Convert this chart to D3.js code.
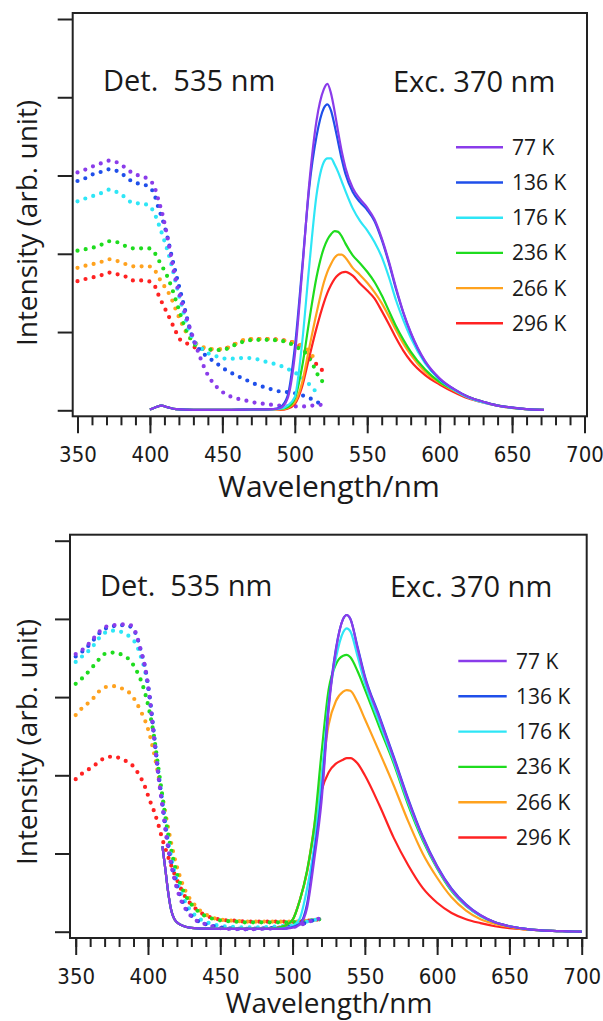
<!DOCTYPE html>
<html>
<head>
<meta charset="utf-8">
<script src="https://cdn.jsdelivr.net/npm/d3@7"></script>
<style>
  body { margin: 0; background: #fff; }
  text { fill: #1a1a1a; }
</style>
</head>
<body>
<svg id="chart" width="603" height="1021"></svg>
<script>
// ---- series labels and colours ----
const temps = ["77 K", "136 K", "176 K", "236 K", "266 K", "296 K"];
const colors = ["#8A3CEA", "#1F4FEA", "#2EE6F6", "#1EDC1E", "#FFA21E", "#FF2222"];
const xTickValues = [350, 400, 450, 500, 550, 600, 650, 700];

// ---- upper panel: excitation spectra (dotted), detection 535 nm ----
const exWlA = [350, 356, 361, 367, 372, 377, 383, 388, 394, 399, 403, 406, 409, 412, 415, 418, 421, 424, 427, 430,
               435, 440, 446, 452, 458, 465, 472, 480, 490, 496, 502, 507, 512, 516, 519];
const exA77  = [3.04, 3.08, 3.12, 3.16, 3.19, 3.17, 3.10, 3.03, 2.99, 2.95, 2.86, 2.68, 2.48, 2.22, 1.92, 1.65, 1.44, 1.26, 1.08, 0.92,
                0.66, 0.45, 0.30, 0.21, 0.16, 0.13, 0.10, 0.08, 0.06, 0.05, 0.05, 0.05, 0.06, 0.07, 0.07];
const exA136 = [2.93, 2.97, 3.02, 3.05, 3.08, 3.06, 2.99, 2.92, 2.89, 2.86, 2.76, 2.58, 2.42, 2.22, 1.97, 1.74, 1.52, 1.30, 1.08, 0.90,
                0.76, 0.68, 0.60, 0.52, 0.46, 0.40, 0.34, 0.29, 0.24, 0.23, 0.21, 0.18, 0.14, 0.10, 0.07];
const exA176 = [2.67, 2.71, 2.74, 2.78, 2.82, 2.79, 2.72, 2.65, 2.64, 2.62, 2.52, 2.38, 2.22, 2.05, 1.85, 1.62, 1.40, 1.20, 1.03, 0.90,
                0.80, 0.73, 0.69, 0.66, 0.66, 0.67, 0.66, 0.62, 0.57, 0.52, 0.46, 0.39, 0.29, 0.21, null];
const exA236 = [2.04, 2.06, 2.08, 2.12, 2.16, 2.15, 2.10, 2.07, 2.07, 2.07, 2.02, 1.92, 1.82, 1.71, 1.57, 1.40, 1.23, 1.07, 0.95, 0.86,
                0.79, 0.78, 0.77, 0.78, 0.83, 0.88, 0.90, 0.90, 0.89, 0.86, 0.80, 0.74, 0.60, 0.45, 0.37];
const exA266 = [1.82, 1.85, 1.87, 1.90, 1.93, 1.91, 1.87, 1.84, 1.84, 1.84, 1.80, 1.70, 1.61, 1.53, 1.42, 1.28, 1.15, 1.03, 0.94, 0.88,
                0.82, 0.79, 0.78, 0.79, 0.84, 0.90, 0.91, 0.91, 0.90, 0.88, 0.85, 0.80, 0.70, 0.62, null];
const exA296 = [1.65, 1.68, 1.70, 1.73, 1.76, 1.74, 1.71, 1.66, 1.66, 1.65, 1.60, 1.47, 1.35, 1.24, 1.12, 1.00, 0.90, 0.87, 0.84, 0.81,
                0.79, 0.78, 0.77, 0.79, 0.84, 0.89, 0.91, 0.91, 0.90, 0.88, 0.84, 0.76, 0.64, 0.57, 0.51];

// ---- upper panel: emission spectra (solid), excitation 370 nm ----
const emWlA = [400, 404, 408, 412, 418, 430, 450, 470, 485, 490, 495, 500, 505, 510, 515, 520, 522.5, 525, 527.5, 530,
               532.5, 535, 540, 545, 550, 555, 560, 565, 570, 575, 580, 590, 600, 610, 620, 630, 640, 650, 660, 672];
const emA77  = [0.01, 0.04, 0.06, 0.04, 0.015, 0.005, 0.005, 0.01, 0.015, 0.03, 0.15, 0.70, 1.75, 2.90, 3.70, 4.10, 4.17, 4.05, 3.82, 3.55,
                3.30, 3.10, 2.84, 2.70, 2.59, 2.44, 2.20, 1.90, 1.56, 1.25, 1.00, 0.63, 0.41, 0.27, 0.17, 0.11, 0.06, 0.035, 0.015, 0.005];
const emA136 = [0.01, 0.04, 0.06, 0.04, 0.015, 0.005, 0.005, 0.01, 0.015, 0.04, 0.18, 0.80, 1.80, 2.85, 3.50, 3.86, 3.91, 3.83, 3.64, 3.42,
                3.20, 3.02, 2.79, 2.66, 2.56, 2.42, 2.18, 1.88, 1.54, 1.24, 0.99, 0.62, 0.40, 0.27, 0.17, 0.11, 0.06, 0.035, 0.015, 0.005];
const emA176 = [0.01, 0.04, 0.06, 0.04, 0.015, 0.005, 0.005, 0.01, 0.015, 0.02, 0.06, 0.17, 0.85, 1.85, 2.75, 3.17, 3.22, 3.22, 3.14, 3.04,
                2.92, 2.80, 2.58, 2.42, 2.30, 2.15, 1.96, 1.70, 1.40, 1.15, 0.93, 0.60, 0.39, 0.26, 0.16, 0.10, 0.06, 0.03, 0.015, 0.005];
const emA236 = [0.01, 0.04, 0.06, 0.04, 0.015, 0.005, 0.005, 0.01, 0.015, 0.02, 0.04, 0.15, 0.55, 1.15, 1.70, 2.07, 2.18, 2.25, 2.29, 2.28,
                2.22, 2.13, 1.98, 1.88, 1.77, 1.64, 1.47, 1.27, 1.07, 0.90, 0.75, 0.52, 0.36, 0.26, 0.17, 0.11, 0.065, 0.035, 0.015, 0.005];
const emA266 = [0.01, 0.04, 0.06, 0.04, 0.015, 0.005, 0.005, 0.01, 0.015, 0.01, 0.03, 0.10, 0.35, 0.80, 1.24, 1.63, 1.77, 1.87, 1.95, 1.99,
                1.99, 1.95, 1.82, 1.73, 1.63, 1.51, 1.37, 1.20, 1.02, 0.85, 0.71, 0.49, 0.35, 0.25, 0.165, 0.105, 0.06, 0.03, 0.015, 0.005];
const emA296 = [0.01, 0.04, 0.06, 0.04, 0.015, 0.005, 0.005, 0.01, 0.015, 0.005, 0.02, 0.08, 0.30, 0.68, 1.05, 1.37, 1.50, 1.60, 1.68, 1.73,
                1.76, 1.77, 1.72, 1.62, 1.53, 1.43, 1.27, 1.10, 0.92, 0.76, 0.63, 0.45, 0.33, 0.23, 0.15, 0.10, 0.06, 0.03, 0.015, 0.005];

// ---- lower panel: excitation spectra (dotted), detection 535 nm ----
const exWlB = [350, 355, 361, 366, 371, 377, 382, 388, 392, 395, 398, 401, 404, 407, 410, 413, 416, 419, 422, 425,
               428, 432, 436, 441, 446, 452, 460, 468, 476, 484, 492, 500, 505, 510, 515, 519];
const exB77  = [3.55, 3.61, 3.72, 3.83, 3.90, 3.92, 3.93, 3.92, 3.80, 3.60, 3.38, 3.02, 2.52, 2.02, 1.60, 1.18, 0.86, 0.62, 0.44, 0.32,
                0.24, 0.16, 0.12, 0.09, 0.06, 0.04, 0.035, 0.03, 0.035, 0.04, 0.05, 0.06, 0.08, 0.12, 0.15, 0.17];
const exB136 = [3.52, 3.59, 3.70, 3.81, 3.88, 3.91, 3.92, 3.90, 3.79, 3.60, 3.38, 3.03, 2.54, 2.05, 1.63, 1.21, 0.89, 0.65, 0.47, 0.34,
                0.25, 0.17, 0.12, 0.09, 0.07, 0.05, 0.04, 0.035, 0.04, 0.045, 0.055, 0.07, 0.09, 0.12, 0.15, 0.17];
const exB176 = [3.45, 3.53, 3.63, 3.75, 3.83, 3.85, 3.83, 3.76, 3.67, 3.52, 3.33, 3.00, 2.55, 2.08, 1.66, 1.27, 0.96, 0.72, 0.54, 0.41,
                0.31, 0.22, 0.16, 0.12, 0.09, 0.07, 0.06, 0.055, 0.055, 0.06, 0.07, 0.08, 0.10, 0.13, 0.15, 0.17];
const exB236 = [3.17, 3.25, 3.37, 3.48, 3.56, 3.57, 3.54, 3.46, 3.34, 3.22, 3.05, 2.82, 2.52, 2.12, 1.73, 1.35, 1.05, 0.81, 0.63, 0.50,
                0.40, 0.31, 0.24, 0.19, 0.16, 0.14, 0.13, 0.12, 0.12, 0.12, 0.12, 0.12, 0.13, 0.14, 0.15, 0.16];
const exB266 = [2.77, 2.87, 2.96, 3.07, 3.13, 3.14, 3.11, 3.04, 2.93, 2.82, 2.70, 2.53, 2.30, 2.02, 1.72, 1.42, 1.14, 0.90, 0.71, 0.56,
                0.45, 0.35, 0.27, 0.21, 0.17, 0.15, 0.14, 0.13, 0.13, 0.13, 0.13, 0.13, 0.13, 0.14, 0.15, 0.16];
const exB296 = [1.95, 2.03, 2.10, 2.17, 2.23, 2.24, 2.20, 2.15, 2.06, 1.97, 1.85, 1.69, 1.55, 1.38, 1.18, 1.01, 0.85, 0.71, 0.58, 0.47,
                0.39, 0.31, 0.25, 0.20, 0.17, 0.15, 0.14, 0.13, 0.13, 0.13, 0.13, 0.13, 0.13, 0.14, 0.15, 0.16];

// ---- lower panel: emission spectra (solid), excitation 370 nm ----
const emWlB = [410, 412, 414, 416, 418, 420, 425, 430, 440, 460, 480, 490, 495, 500, 505, 510, 515, 520, 525, 530,
               535, 537.5, 540, 545, 550, 560, 570, 580, 590, 600, 610, 620, 630, 640, 650, 660, 670, 680, 690, 700];
const emB77  = [1.09, 0.80, 0.50, 0.28, 0.17, 0.12, 0.07, 0.05, 0.04, 0.035, 0.035, 0.035, 0.04, 0.05, 0.09, 0.30, 0.92, 1.66, 2.85, 3.60,
                4.00, 4.05, 4.00, 3.62, 3.25, 2.74, 2.22, 1.68, 1.21, 0.83, 0.54, 0.34, 0.21, 0.12, 0.07, 0.04, 0.02, 0.01, 0.005, 0.0];
const emB136 = [1.09, 0.80, 0.50, 0.28, 0.17, 0.12, 0.07, 0.05, 0.04, 0.035, 0.035, 0.035, 0.04, 0.06, 0.10, 0.35, 1.00, 1.75, 2.90, 3.62,
                4.00, 4.05, 4.00, 3.64, 3.27, 2.76, 2.24, 1.70, 1.22, 0.84, 0.55, 0.35, 0.21, 0.12, 0.07, 0.04, 0.02, 0.01, 0.005, 0.0];
const emB176 = [1.09, 0.80, 0.50, 0.28, 0.17, 0.12, 0.07, 0.05, 0.04, 0.035, 0.035, 0.035, 0.045, 0.07, 0.17, 0.55, 1.10, 1.95, 2.95, 3.50,
                3.83, 3.88, 3.84, 3.52, 3.18, 2.68, 2.18, 1.65, 1.19, 0.82, 0.53, 0.33, 0.20, 0.12, 0.07, 0.04, 0.02, 0.01, 0.005, 0.0];
const emB236 = [1.09, 0.80, 0.50, 0.28, 0.17, 0.12, 0.07, 0.05, 0.04, 0.035, 0.035, 0.05, 0.08, 0.15, 0.40, 0.78, 1.35, 2.28, 3.10, 3.42,
                3.53, 3.54, 3.51, 3.33, 3.10, 2.62, 2.15, 1.62, 1.17, 0.81, 0.52, 0.33, 0.20, 0.12, 0.07, 0.04, 0.02, 0.01, 0.005, 0.0];
const emB266 = [1.09, 0.80, 0.50, 0.28, 0.17, 0.12, 0.07, 0.05, 0.04, 0.035, 0.035, 0.05, 0.08, 0.15, 0.40, 0.77, 1.35, 2.00, 2.65, 2.95,
                3.07, 3.09, 3.08, 2.93, 2.72, 2.30, 1.87, 1.41, 1.00, 0.69, 0.44, 0.27, 0.16, 0.10, 0.06, 0.03, 0.02, 0.01, 0.005, 0.0];
const emB296 = [1.09, 0.80, 0.50, 0.28, 0.17, 0.12, 0.07, 0.05, 0.04, 0.035, 0.035, 0.05, 0.08, 0.15, 0.40, 0.76, 1.30, 1.80, 2.04, 2.15,
                2.20, 2.22, 2.22, 2.15, 2.00, 1.62, 1.20, 0.85, 0.56, 0.37, 0.24, 0.16, 0.11, 0.07, 0.045, 0.03, 0.02, 0.01, 0.005, 0.0];

// ---- panel layout ----
const panels = [
  {
    frame: { x0: 72.7, x1: 587, y0: 13, y1: 416.3 },
    xRange: [77.5, 584.5], yRange: [410.3, 19],
    exWl: exWlA, ex: [exA77, exA136, exA176, exA236, exA266, exA296],
    emWl: emWlA, em: [emA77, emA136, emA176, emA236, emA266, emA296],
    det: { x: 103, y: 91 }, exc: { x: 393, y: 91.5 },
    legend: { x0: 456, x1: 503, tx: 512, y: 147.3, dy: 35.2 },
    yTitleY: 223, xTitleY: 497, xTitleSize: 30, tickLabelY: 461.7
  },
  {
    frame: { x0: 70, x1: 586.7, y0: 534.7, y1: 938 },
    xRange: [75.7, 581.7], yRange: [931.7, 540.7],
    exWl: exWlB, ex: [exB77, exB136, exB176, exB236, exB266, exB296],
    emWl: emWlB, em: [emB77, emB136, emB176, emB236, emB266, emB296],
    det: { x: 100, y: 596 }, exc: { x: 390, y: 597 },
    legend: { x0: 458.3, x1: 506.7, tx: 516, y: 661, dy: 35.3 },
    yTitleY: 742, xTitleY: 1013, xTitleSize: 28, tickLabelY: 983.5
  }
];

const svg = d3.select("#chart");
const textFont = "'Open Sans', 'Noto Sans', sans-serif";
const tickFont = "'Liberation Sans Narrow', 'Arial Narrow', 'DejaVu Sans Condensed', sans-serif";

panels.forEach(p => {
  const g = svg.append("g");
  const x = d3.scaleLinear().domain([350, 700]).range(p.xRange);
  const y = d3.scaleLinear().domain([0, 5]).range(p.yRange);
  const f = p.frame;

  // plot frame
  g.append("rect")
    .attr("x", f.x0).attr("y", f.y0)
    .attr("width", f.x1 - f.x0).attr("height", f.y1 - f.y0)
    .attr("fill", "none").attr("stroke", "#222").attr("stroke-width", 2);

  // x axis: minor ticks every 10 nm, major ticks with labels every 50 nm
  const minor = d3.axisBottom(x).tickValues(d3.range(350, 701, 10)).tickSize(9).tickFormat("");
  g.append("g").attr("transform", `translate(0,${f.y1})`).call(minor)
    .call(a => a.select(".domain").remove())
    .selectAll("line").attr("stroke", "#222").attr("stroke-width", 2);

  const major = d3.axisBottom(x).tickValues(xTickValues).tickSize(17).tickPadding(0).tickFormat(d3.format("d"));
  const mg = g.append("g").attr("transform", `translate(0,${f.y1})`).call(major);
  mg.select(".domain").remove();
  mg.selectAll("line").attr("stroke", "#222").attr("stroke-width", 2);
  mg.selectAll("text")
    .attr("y", p.tickLabelY - f.y1).attr("dy", null)
    .style("font-family", tickFont).style("font-size", "22px").attr("fill", "#1a1a1a");

  // y axis: unlabeled ticks
  const yAxis = d3.axisLeft(y).tickValues([0, 1, 2, 3, 4, 5]).tickSize(15).tickFormat("");
  g.append("g").attr("transform", `translate(${f.x0},0)`).call(yAxis)
    .call(a => a.select(".domain").remove())
    .selectAll("line").attr("stroke", "#222").attr("stroke-width", 2);

  // spectra
  const clip = "clip" + Math.round(f.y0);
  g.append("clipPath").attr("id", clip).append("rect")
    .attr("x", f.x0 + 1).attr("y", f.y0 + 1).attr("width", f.x1 - f.x0 - 2).attr("height", f.y1 - f.y0 - 2);
  const plot = g.append("g").attr("clip-path", `url(#${clip})`);

  const specLine = d3.line()
    .defined(d => d[1] !== null)
    .x(d => x(d[0])).y(d => y(d[1]))
    .curve(d3.curveMonotoneX);

  // draw from highest temperature to lowest so 77 K lies on top
  for (let i = temps.length - 1; i >= 0; i--) {
    const pts = p.exWl.map((w, k) => [w, p.ex[i][k]]);
    plot.append("path")
      .attr("d", specLine(pts))
      .attr("fill", "none")
      .attr("stroke", colors[i])
      .attr("stroke-width", 4.2)
      .attr("stroke-linecap", "round")
      .attr("stroke-dasharray", "0 8.3");
  }
  for (let i = temps.length - 1; i >= 0; i--) {
    const pts = p.emWl.map((w, k) => [w, p.em[i][k]]);
    plot.append("path")
      .attr("d", specLine(pts))
      .attr("fill", "none")
      .attr("stroke", colors[i])
      .attr("stroke-width", 2.2)
      .attr("stroke-linejoin", "round");
  }

  // annotations
  g.append("text").attr("x", p.det.x).attr("y", p.det.y)
    .style("font-family", textFont).style("font-size", "29px").style("white-space", "pre")
    .text("Det.  535 nm");
  g.append("text").attr("x", p.exc.x).attr("y", p.exc.y)
    .style("font-family", textFont).style("font-size", "29px")
    .text("Exc. 370 nm");

  // legend
  const L = p.legend;
  temps.forEach((t, i) => {
    const yy = L.y + i * L.dy;
    g.append("line").attr("x1", L.x0).attr("x2", L.x1).attr("y1", yy).attr("y2", yy)
      .attr("stroke", colors[i]).attr("stroke-width", 2.4);
    g.append("text").attr("x", L.tx).attr("y", yy + 7.5)
      .style("font-family", textFont).style("font-size", "21px")
      .text(t);
  });

  // axis titles
  g.append("text")
    .attr("transform", `translate(37,${p.yTitleY}) rotate(-90)`)
    .attr("text-anchor", "middle")
    .style("font-family", textFont).style("font-size", "28px")
    .text("Intensity (arb. unit)");
  g.append("text")
    .attr("x", 329).attr("y", p.xTitleY)
    .attr("text-anchor", "middle")
    .style("font-family", textFont).style("font-size", p.xTitleSize + "px")
    .text("Wavelength/nm");
});
</script>
</body>
</html>
